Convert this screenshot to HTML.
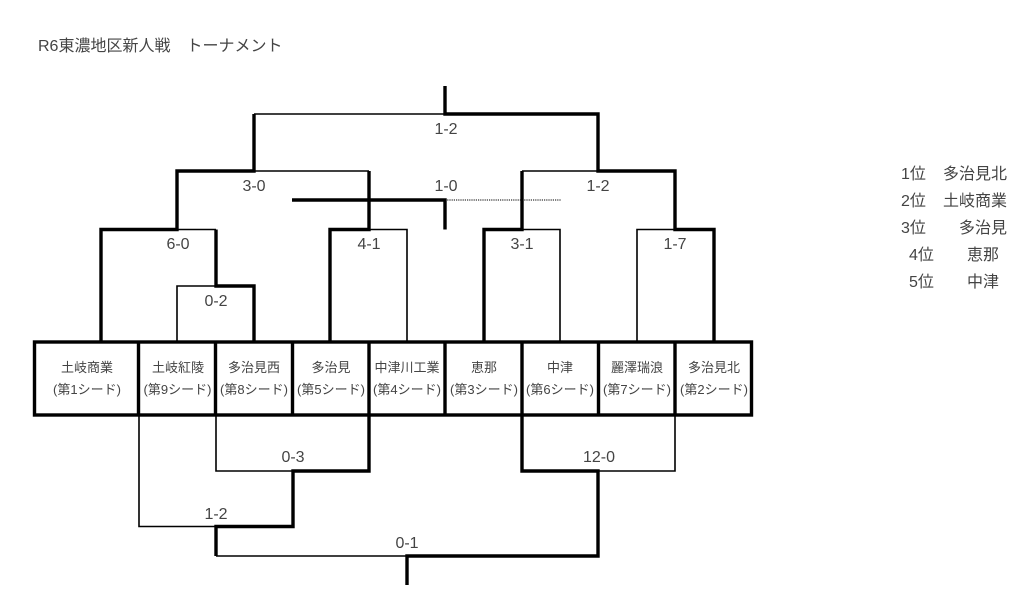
<!DOCTYPE html>
<html lang="ja"><head><meta charset="utf-8"><style>
html,body{margin:0;padding:0;background:#fff}
svg{display:block}
text{font-family:"Liberation Sans","Noto Sans CJK JP",sans-serif;fill:#444}
.n{font-size:13px;text-anchor:middle}
.s{font-size:16px;text-anchor:middle}
.l{font-size:16px}
</style></head><body>
<svg width="1024" height="614" viewBox="0 0 1024 614" xmlns="http://www.w3.org/2000/svg">
<rect width="1024" height="614" fill="#fff"/>
<text class="l" x="38" y="51">R6東濃地区新人戦　トーナメント</text>

<g fill="none" stroke="#000" stroke-width="1.6">
<path d="M254 114H445"/>
<path d="M254 171H369"/>
<path d="M522 171H598"/>
<path d="M177 229.5H216"/>
<path d="M369 229.5H407V342"/>
<path d="M522 229.5H560V342"/>
<path d="M637 342V229.5H675"/>
<path d="M177 342V286H216"/>
<path d="M139 415V526.5H216"/>
<path d="M216 415V471H293"/>
<path d="M598 471H675V415"/>
<path d="M216 556H407"/>
</g>
<path d="M445 200H561" stroke="#333" stroke-width="1.3" stroke-dasharray="1.2 1" fill="none"/>

<g fill="none" stroke="#000" stroke-width="3.4" stroke-linejoin="miter">
<path d="M445 86V114H598V171H675V229.5H714V342"/>
<path d="M254 114V171H177V229.5H101V343"/>
<path d="M216 229.5V286H254V342"/>
<path d="M369 171V229.5H330V343"/>
<path d="M522 171V229.5H484V343"/>
<path d="M292 200H445V229.5"/>
<path d="M369 415V471H293V526.5H216V556"/>
<path d="M522 415V471H598V556H407V585"/>
<rect x="34.5" y="342" width="717" height="73"/>
<path d="M138.5 342V415M215.5 342V415M292.5 342V415M369 342V415M445 342V415M522 342V415M598.5 342V415M675 342V415"/>
</g>

<text class="s" x="446" y="134">1-2</text>
<text class="s" x="254" y="191">3-0</text>
<text class="s" x="446" y="191">1-0</text>
<text class="s" x="598" y="191">1-2</text>
<text class="s" x="178" y="249">6-0</text>
<text class="s" x="369" y="249">4-1</text>
<text class="s" x="522" y="249">3-1</text>
<text class="s" x="675" y="249">1-7</text>
<text class="s" x="216" y="306">0-2</text>
<text class="s" x="293" y="462">0-3</text>
<text class="s" x="599" y="462">12-0</text>
<text class="s" x="216" y="519">1-2</text>
<text class="s" x="407" y="548">0-1</text>

<text class="n" x="87" y="372">土岐商業</text><text class="n" x="87" y="394">(第1シード)</text>
<text class="n" x="178" y="372">土岐紅陵</text><text class="n" x="177.5" y="394">(第9シード)</text>
<text class="n" x="254" y="372">多治見西</text><text class="n" x="254" y="394">(第8シード)</text>
<text class="n" x="331" y="372">多治見</text><text class="n" x="331" y="394">(第5シード)</text>
<text class="n" x="407" y="372">中津川工業</text><text class="n" x="407" y="394">(第4シード)</text>
<text class="n" x="484" y="372">恵那</text><text class="n" x="484" y="394">(第3シード)</text>
<text class="n" x="560" y="372">中津</text><text class="n" x="560" y="394">(第6シード)</text>
<text class="n" x="637" y="372">麗澤瑞浪</text><text class="n" x="637" y="394">(第7シード)</text>
<text class="n" x="714" y="372">多治見北</text><text class="n" x="714" y="394">(第2シード)</text>

<text class="l" x="901" y="179">1位</text><text class="l" x="943" y="179">多治見北</text>
<text class="l" x="901" y="206">2位</text><text class="l" x="943" y="206">土岐商業</text>
<text class="l" x="901" y="233">3位</text><text class="l" x="959" y="233">多治見</text>
<text class="l" x="909" y="260">4位</text><text class="l" x="967" y="260">恵那</text>
<text class="l" x="909" y="287">5位</text><text class="l" x="967" y="287">中津</text>
</svg>
</body></html>
